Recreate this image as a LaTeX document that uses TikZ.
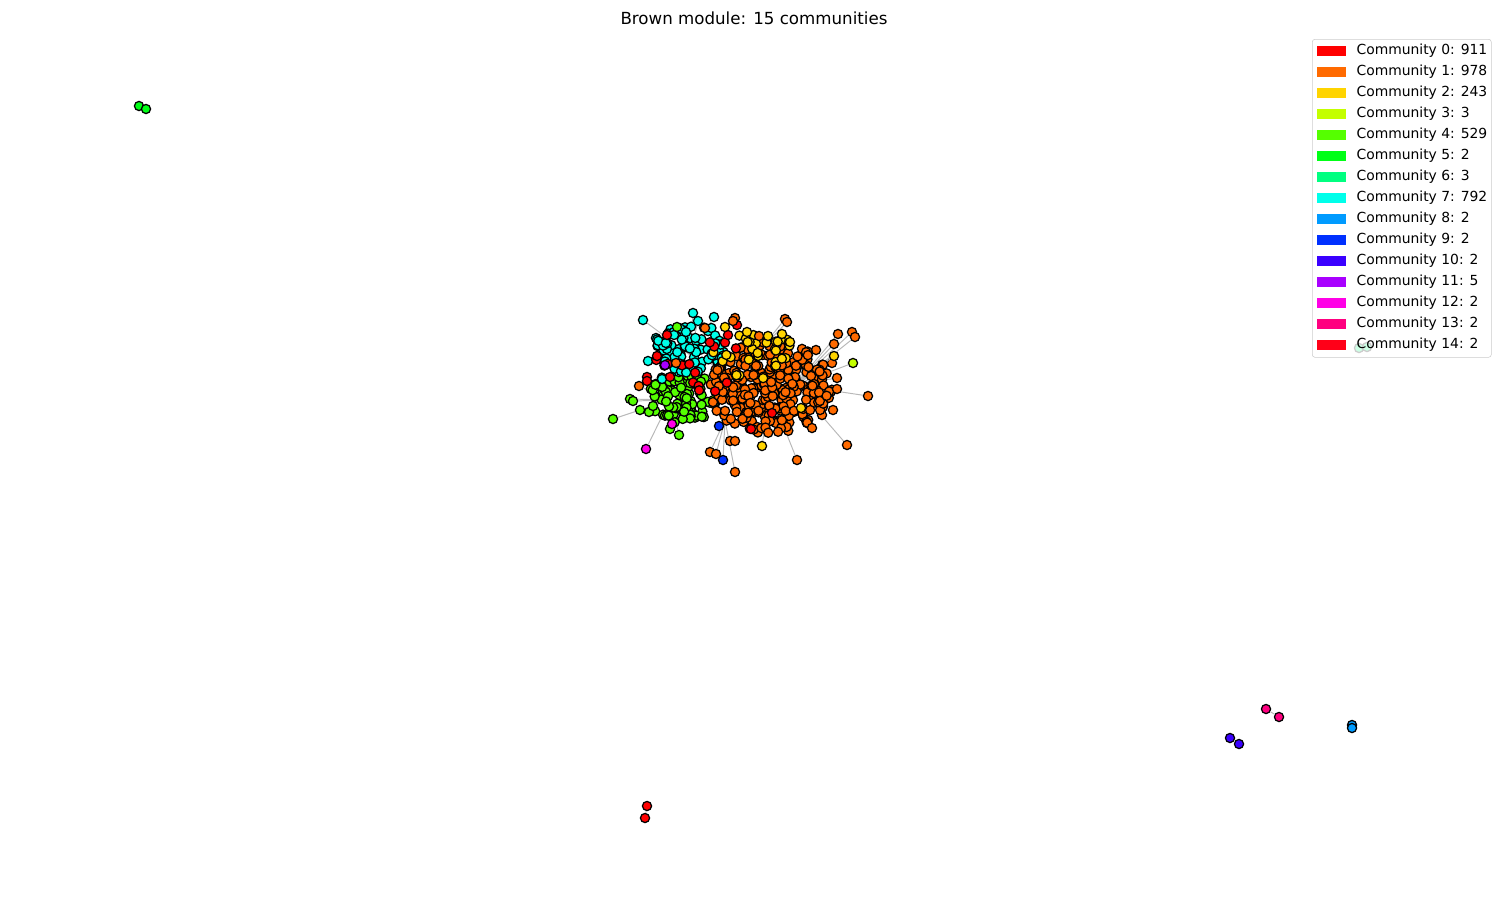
\documentclass[tikz,border=0pt]{standalone}
\usepackage{fontspec}
\setmainfont{DejaVu Sans}
\usetikzlibrary{positioning}
\definecolor{comm0}{HTML}{FF0000}
\definecolor{comm1}{HTML}{FF6A00}
\definecolor{comm2}{HTML}{FFD400}
\definecolor{comm3}{HTML}{C4FF00}
\definecolor{comm4}{HTML}{55FF00}
\definecolor{comm5}{HTML}{00FF16}
\definecolor{comm6}{HTML}{00FF80}
\definecolor{comm7}{HTML}{00FFEA}
\definecolor{comm8}{HTML}{009BFF}
\definecolor{comm9}{HTML}{0030FF}
\definecolor{comm10}{HTML}{3A00FF}
\definecolor{comm11}{HTML}{A800FF}
\definecolor{comm12}{HTML}{FF00E6}
\definecolor{comm13}{HTML}{FF0080}
\definecolor{comm14}{HTML}{FF0018}
\begin{document}
\begin{tikzpicture}[x=0.72pt,y=-0.72pt,
  dot/.style={circle,draw=black,line width=0.9pt,inner sep=0pt,minimum size=6.6pt},
  link/.style={draw=black!28,line width=0.7pt},
  patch/.style={rectangle,inner sep=0pt,minimum width=20.9pt,minimum height=7.2pt},
  legtext/.style={inner sep=0pt,font=\fontsize{10}{12}\selectfont,anchor=west}]
  \useasboundingbox (0,0) rectangle (1508,904);
  \node[font=\fontsize{12}{14}\selectfont] (title) at (754,18) {Brown module: 15 communities};
  % hubs inside the core
  \coordinate (hubC) at (690,355);
  \coordinate (hubG) at (670,400);
  \coordinate (hubO) at (770,392);
  \coordinate (hubS) at (725,420);
  \coordinate (hubE) at (795,385);
  \coordinate (hubN) at (760,350);
  % nodes hanging off the core
  \foreach \x/\y/\c/\h [count=\k] in {643/320/comm7/hubC, 693/313/comm7/hubC, 698/321/comm7/hubC,
      714/317/comm7/hubC, 613/419/comm4/hubG, 630/399/comm4/hubG, 633/401/comm4/hubG, 640/410/comm4/hubG,
      670/429/comm4/hubG, 679/435/comm4/hubG, 646/449/comm12/hubG, 639/386/comm1/hubG,
      785/319/comm1/hubN, 787/322/comm1/hubN, 838/334/comm1/hubE, 852/332/comm1/hubE, 855/337/comm1/hubE,
      834/344/comm1/hubE, 832/363/comm1/hubE, 816/350/comm1/hubE, 837/378/comm1/hubE, 868/396/comm1/hubE,
      847/445/comm1/hubE, 797/460/comm1/hubO, 710/452/comm1/hubS, 716/454/comm1/hubS, 735/472/comm1/hubS,
      834/356/comm2/hubE, 762/446/comm2/hubO, 853/363/comm3/hubE, 723/460/comm9/hubS,
      656/338/comm7/hubO, 648/361/comm7/hubO, 822/415/comm1/hubN, 833/410/comm1/hubN}{
    \node[dot,fill=\c] (q\k) at (\x,\y) {};
    \draw[link] (q\k) -- (\h);
  }
  % core of the module
  \pgfmathsetseed{11}
  \foreach \i in {1,...,95}{
    \pgfmathsetmacro\ang{360*rnd}
    \pgfmathsetmacro\rad{sqrt(rnd)}
    \node[dot,fill=comm4] (gr\i) at ({682+38*\rad*cos(\ang)},{398+25*\rad*sin(\ang)}) {};
  }
  \foreach \i in {1,...,85}{
    \pgfmathsetmacro\ang{360*rnd}
    \pgfmathsetmacro\rad{sqrt(rnd)}
    \node[dot,fill=comm7] (cy\i) at ({692+40*\rad*cos(\ang)},{350+26*\rad*sin(\ang)}) {};
  }
  \foreach \i in {1,...,300}{
    \pgfmathsetmacro\ang{360*rnd}
    \pgfmathsetmacro\rad{sqrt(rnd)}
    \node[dot,fill=comm1] (or\i) at ({770+62*\rad*cos(\ang)},{388+46*\rad*sin(\ang)}) {};
  }
  \foreach \i in {1,...,30}{
    \pgfmathsetmacro\ang{360*rnd}
    \pgfmathsetmacro\rad{sqrt(rnd)}
    \node[dot,fill=comm2] (ye\i) at ({752+45*\rad*cos(\ang)},{355+25*\rad*sin(\ang)}) {};
  }
  \foreach \i in {1,...,14}{
    \pgfmathsetmacro\ang{360*rnd}
    \pgfmathsetmacro\rad{sqrt(rnd)}
    \node[dot,fill=comm0] (rd\i) at ({700+45*\rad*cos(\ang)},{365+34*\rad*sin(\ang)}) {};
  }
  % loose nodes at the rim
  \foreach \x/\y/\c [count=\k] in {662/379/comm7, 674/335/comm7, 686/332/comm7,
      649/412/comm4, 653/406/comm4, 677/327/comm4, 672/424/comm12, 665/365/comm11,
      667/335/comm0, 647/377/comm0, 647/381/comm0, 670/377/comm0, 657/356/comm0, 737/325/comm0,
      728/335/comm0, 751/429/comm0, 772/413/comm0, 676/363/comm1, 705/328/comm1, 735/318/comm1,
      733/321/comm1, 837/389/comm1, 812/428/comm1, 759/336/comm1,
      730/441/comm1, 735/441/comm1, 790/342/comm2, 782/334/comm2, 768/336/comm2, 747/332/comm2,
      801/408/comm2, 725/327/comm2, 719/426/comm9}{
    \node[dot,fill=\c] (r\k) at (\x,\y) {};
  }
  % small components
  \node[dot,fill=comm5] (a1) at (139,106) {};
  \node[dot,fill=comm5] (a2) at (146,109) {};
  \node[dot,fill=comm0] (b1) at (647,806) {};
  \node[dot,fill=comm0] (b2) at (645,818) {};
  \node[dot,fill=comm13] (c1) at (1266,709) {};
  \node[dot,fill=comm13] (c2) at (1279,717) {};
  \node[dot,fill=comm10] (d1) at (1230,738) {};
  \node[dot,fill=comm10] (d2) at (1239,744) {};
  \node[dot,fill=comm8] (e1) at (1352,725) {};
  \node[dot,fill=comm8] (e2) at (1352,728) {};
  \node[dot,fill=comm6] (f1) at (1359,348) {};
  \node[dot,fill=comm6] (f2) at (1367,347) {};
  \draw[link] (b1) -- (b2);
  \draw[link] (c1) -- (c2);
  \draw[link] (d1) -- (d2);
  % legend
  \node[draw=black!20,fill=white,fill opacity=0.8,rounded corners=2pt,anchor=north west,
    minimum width=128.9pt,minimum height=229pt] (legend) at (1312,39) {};
  \foreach \n/\s [count=\k from 0] in {0/911,1/978,2/243,3/3,4/529,5/2,6/3,7/792,8/2,9/2,10/2,11/5,12/2,13/2,14/2}{
    \node[patch,fill=comm\n] (p\n) at (1331.5,{51+21*\k}) {};
    \node[legtext,right=7.2pt of p\n] (t\n) {Community \n: \s};
  }
\end{tikzpicture}
\end{document}
